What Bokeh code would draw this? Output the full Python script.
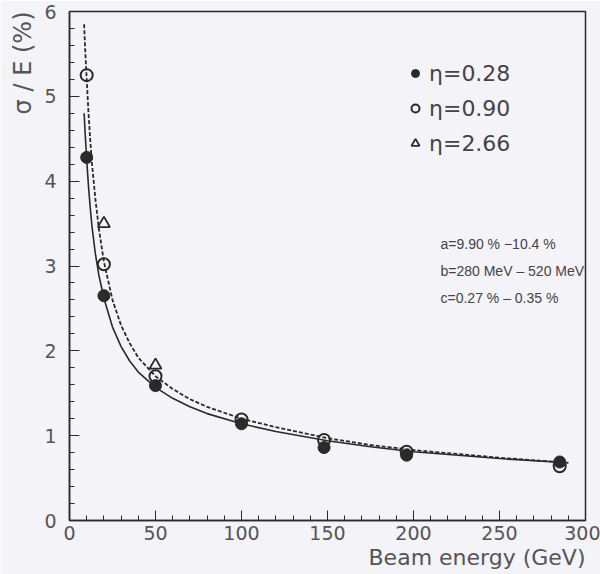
from bokeh.plotting import figure
from bokeh.models import (SingleIntervalTicker, Legend, LegendItem, Label, Title)
from bokeh.embed import file_html
from bokeh.resources import INLINE

# Data
e_028 = [10, 20, 50, 100, 148, 196, 285]
s_028 = [4.28, 2.65, 1.59, 1.14, 0.86, 0.77, 0.69]
e_090 = [10, 20, 50, 100, 148, 196, 285]
s_090 = [5.25, 3.02, 1.70, 1.19, 0.95, 0.81, 0.64]
e_266 = [20, 50]
s_266 = [3.50, 1.83]

# fitted curves
fit_solid_e = [8.5, 9, 10, 11, 12, 13, 15, 17, 20, 25, 30, 35, 40, 50, 60, 70, 80, 100, 120, 150, 175, 200, 250, 290]
fit_solid_s = [4.80, 4.60, 4.25, 3.95, 3.70, 3.48, 3.15, 2.90, 2.62, 2.28, 2.05, 1.88, 1.75, 1.57, 1.44, 1.34, 1.26, 1.14, 1.05, 0.94, 0.87, 0.81, 0.73, 0.68]
fit_dash_e = [8.5, 9, 10, 11, 12, 13, 15, 17, 20, 25, 30, 35, 40, 50, 60, 70, 80, 100, 120, 150, 175, 200, 250, 290]
fit_dash_s = [5.85, 5.60, 5.20, 4.82, 4.50, 4.22, 3.80, 3.45, 3.05, 2.60, 2.30, 2.09, 1.92, 1.70, 1.55, 1.43, 1.34, 1.20, 1.10, 0.97, 0.89, 0.83, 0.74, 0.68]

fit_lines = ["a=9.90 % \u221210.4 %", "b=280 MeV \u2013 520 MeV", "c=0.27 % \u2013 0.35 %"]

BG = "#f3f3f8"
INK = "#2a2a2a"
FONT = "DejaVu Sans"
FONT2 = "Liberation Sans"

p = figure(width=600, height=574, x_range=(0, 300), y_range=(0, 6),
           output_backend="svg", toolbar_location=None,
           background_fill_color=BG, border_fill_color=BG,
           min_border_left=69, min_border_right=15, min_border_top=11, min_border_bottom=54)
p.grid.visible = False
p.outline_line_color = INK
p.outline_line_width = 1.5

p.xaxis.ticker = SingleIntervalTicker(interval=50, num_minor_ticks=5)
p.yaxis.ticker = SingleIntervalTicker(interval=1, num_minor_ticks=5)
for ax in (p.xaxis, p.yaxis):
    ax.major_tick_in = 10
    ax.major_tick_out = 0
    ax.minor_tick_in = 5
    ax.minor_tick_out = 0
    ax.axis_line_color = INK
    ax.axis_line_width = 1.5
    ax.major_tick_line_color = INK
    ax.minor_tick_line_color = INK
    ax.major_label_text_font = FONT
    ax.major_label_text_font_size = "19px"
    ax.major_label_text_color = "#555555"
p.xaxis.major_label_standoff = 5
p.yaxis.major_label_standoff = 13

p.line(fit_solid_e, fit_solid_s, line_color=INK, line_width=1.6)
p.line(fit_dash_e, fit_dash_s, line_color=INK, line_width=1.8, line_dash="4 2")

r1 = p.scatter(e_028, s_028, marker="circle", size=12, fill_color=INK, line_color=INK)
r2 = p.scatter(e_090, s_090, marker="circle", size=12, fill_color=None, line_color=INK, line_width=2)
r3 = p.scatter(e_266, s_266, marker="triangle", size=12, fill_color=None, line_color=INK, line_width=1.8)

legend = Legend(items=[LegendItem(label="\u03b7=0.28", renderers=[r1]),
                       LegendItem(label="\u03b7=0.90", renderers=[r2]),
                       LegendItem(label="\u03b7=2.66", renderers=[r3])],
                location=(336, 362), background_fill_alpha=0, border_line_alpha=0,
                label_text_font=FONT, label_text_font_size="22px", label_text_color="#444444",
                glyph_width=20, glyph_height=20, label_height=30, spacing=5, label_standoff=4,
                padding=0, margin=0)
p.add_layout(legend)

for i, t in enumerate(fit_lines):
    p.add_layout(Label(x=371, y=277 - i * 27, x_units="screen", y_units="screen", text=t,
                       text_font=FONT2, text_font_size="14px", text_color="#444444",
                       text_baseline="middle"))

p.add_layout(Title(text="Beam energy (GeV)", align="right", text_font=FONT,
                   text_font_size="22px", text_font_style="normal", text_color="#555555",
                   offset=0, standoff=0), "below")
p.add_layout(Title(text="\u03c3 / E (%)", align="right", text_font=FONT,
                   text_font_size="24px", text_font_style="normal", text_color="#555555"), "left")

open("out.html", "w").write(file_html(p, INLINE))
